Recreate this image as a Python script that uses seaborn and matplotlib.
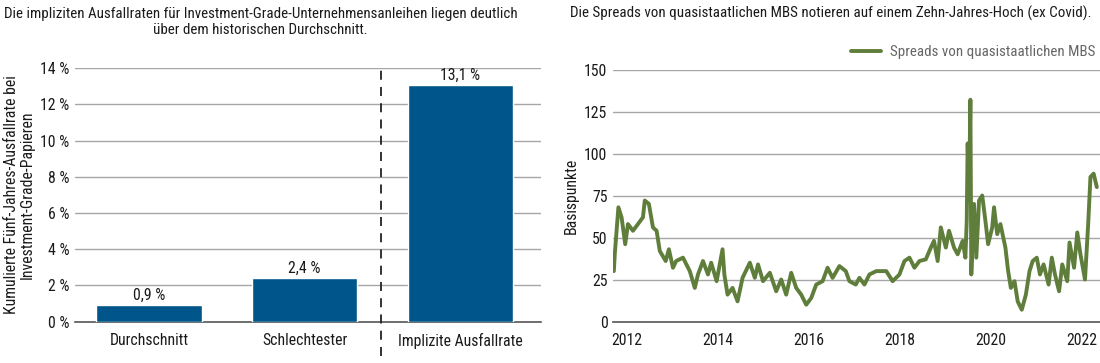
import matplotlib
matplotlib.use("Agg")
import matplotlib.pyplot as plt
from matplotlib import font_manager
import seaborn as sns
import pandas as pd

# left panel: cumulative five-year default rates
categories = ["Durchschnitt", "Schlechtester", "Implizite Ausfallrate"]
default_rates = [0.9, 2.4, 13.1]
rate_labels = ["0,9 %", "2,4 %", "13,1 %"]
pct_ticks = [0, 2, 4, 6, 8, 10, 12, 14]

# right panel: agency MBS spreads (bp)
years = [2011.71, 2011.73, 2011.81, 2011.88, 2011.96, 2012.02, 2012.13, 2012.35, 2012.39,
         2012.48, 2012.57, 2012.65, 2012.72, 2012.85, 2012.92, 2013.01, 2013.08, 2013.23,
         2013.38, 2013.49, 2013.56, 2013.67, 2013.78, 2013.85, 2013.97, 2014.10, 2014.14,
         2014.21, 2014.32, 2014.43, 2014.54, 2014.70, 2014.81, 2014.88, 2014.99, 2015.14,
         2015.28, 2015.39, 2015.50, 2015.61, 2015.72, 2015.83, 2015.94, 2016.05, 2016.16,
         2016.30, 2016.41, 2016.52, 2016.67, 2016.81, 2016.89, 2017.03, 2017.11, 2017.22,
         2017.33, 2017.48, 2017.70, 2017.84, 2017.99, 2018.10, 2018.21, 2018.32, 2018.43,
         2018.57, 2018.68, 2018.75, 2018.83, 2018.90, 2019.01, 2019.08, 2019.19, 2019.27,
         2019.38, 2019.44, 2019.47, 2019.49, 2019.52, 2019.55, 2019.57, 2019.63, 2019.68,
         2019.74, 2019.81, 2019.88, 2019.94, 2020.03, 2020.07, 2020.14, 2020.21, 2020.32,
         2020.38, 2020.44, 2020.52, 2020.59, 2020.68, 2020.77, 2020.85, 2020.92, 2021.01,
         2021.08, 2021.16, 2021.27, 2021.34, 2021.41, 2021.50, 2021.57, 2021.68, 2021.73,
         2021.83, 2021.90, 2021.97, 2022.07, 2022.14, 2022.19, 2022.26, 2022.33]
spreads = [30, 40, 68, 62, 46, 58, 54, 62, 72,
           70, 56, 54, 42, 36, 43, 32, 36, 38,
           30, 20, 28, 36, 28, 35, 24, 43, 28,
           16, 20, 12, 26, 35, 26, 34, 24, 29,
           18, 25, 16, 29, 20, 16, 10, 14, 22,
           24, 32, 26, 33, 30, 24, 22, 26, 22,
           28, 30, 30, 24, 28, 36, 38, 32, 36,
           37, 44, 48, 36, 56, 44, 54, 44, 40,
           48, 38, 60, 106, 72, 132, 28, 70, 38,
           72, 75, 60, 46, 56, 68, 52, 58, 44,
           30, 20, 24, 12, 7, 16, 30, 36, 38,
           28, 34, 22, 38, 28, 18, 34, 24, 47,
           32, 53, 40, 25, 58, 86, 88, 80]
year_ticks = [2012, 2014, 2016, 2018, 2020, 2022]
bp_ticks = [0, 25, 50, 75, 100, 125, 150]

bar_df = pd.DataFrame({"cat": categories, "rate": default_rates})
mbs_df = pd.DataFrame({"year": years, "spread": spreads})

sns.set_theme(style="white")
names = {f.name for f in font_manager.fontManager.ttflist}
fam = next((n for n in ["Roboto Condensed", "Archivo Narrow", "Barlow Condensed", "Asap Condensed"]
            if n in names), "Roboto")
plt.rcParams["font.family"] = [fam, "DejaVu Sans"]

bar_col = "#00568a"
line_col = "#607e3b"
grid_col = "#a6a6a6"
txt = "#1a1a1a"
fs = 10.8
tfs = 11.3

fig = plt.figure(figsize=(11, 3.63), dpi=100)
ax1 = fig.add_axes([0.0682, 0.1143, 0.4236, 0.6975])
ax2 = fig.add_axes([0.5573, 0.1143, 0.4427, 0.6942])

# ---- left panel
sns.barplot(data=bar_df, x="cat", y="rate", color=bar_col, width=0.675, saturation=1, ax=ax1, zorder=3)
ax1.set_ylim(0, 14)
ax1.set_xlim(-0.475, 2.517)
ax1.set_yticks(pct_ticks)
ax1.set_yticklabels([f"{t} %" for t in pct_ticks])
for i, (v, lab) in enumerate(zip(default_rates, rate_labels)):
    ax1.annotate(lab, (i, v), xytext=(0, 1.5), textcoords="offset points",
                 ha="center", va="bottom", fontsize=tfs, color=txt)
for t in pct_ticks[1:]:
    ax1.axhline(t, color=grid_col, lw=1, zorder=1)
ax1.plot([1.49, 1.49], [-1.9, 14], ls=(0, (5, 4)), color="#222222", lw=1.3, clip_on=False, zorder=4)
ax1.set_xlabel("")
ax1.set_ylabel("Kumulierte Fünf-Jahres-Ausfallrate bei\nInvestment-Grade-Papieren", fontsize=tfs,
               color=txt, linespacing=1.05, labelpad=4)
fig.text(0.237, 0.94, "Die impliziten Ausfallraten für Investment-Grade-Unternehmensanleihen liegen deutlich\n"
         "über dem historischen Durchschnitt.", fontsize=fs, color=txt, ha="center", va="center",
         linespacing=1.15)

# ---- right panel
sns.lineplot(data=mbs_df, x="year", y="spread", color=line_col, lw=2.8, ax=ax2, zorder=3,
             label="Spreads von quasistaatlichen MBS")
ax2.set_ylim(0, 150)
ax2.set_xlim(2011.692, 2022.40)
ax2.set_yticks(bp_ticks)
ax2.set_xticks(year_ticks)
ax2.set_xticklabels([str(y) for y in year_ticks])
for t in bp_ticks[1:]:
    ax2.axhline(t, color=grid_col, lw=1, zorder=1)
ax2.set_xlabel("")
ax2.set_ylabel("Basispunkte", fontsize=tfs, color=txt, labelpad=4)
leg = ax2.legend(loc="lower right", bbox_to_anchor=(0.99, 1.04), frameon=False, fontsize=fs,
                 handlelength=2.0, borderaxespad=0, borderpad=0, handletextpad=0.6)
for t in leg.get_texts():
    t.set_color("#666666")
fig.text(0.518, 0.962, "Die Spreads von quasistaatlichen MBS notieren auf einem Zehn-Jahres-Hoch (ex Covid).",
         fontsize=fs, color=txt, ha="left", va="center")

for ax in (ax1, ax2):
    for s in ("top", "right", "left"):
        ax.spines[s].set_visible(False)
    ax.spines["bottom"].set_color("#555555")
    ax.spines["bottom"].set_linewidth(1.2)
    ax.tick_params(axis="both", length=0, labelsize=tfs, colors=txt)
    ax.tick_params(axis="y", pad=4)
    ax.tick_params(axis="x", pad=8)

fig.savefig("out.png", dpi=100)
